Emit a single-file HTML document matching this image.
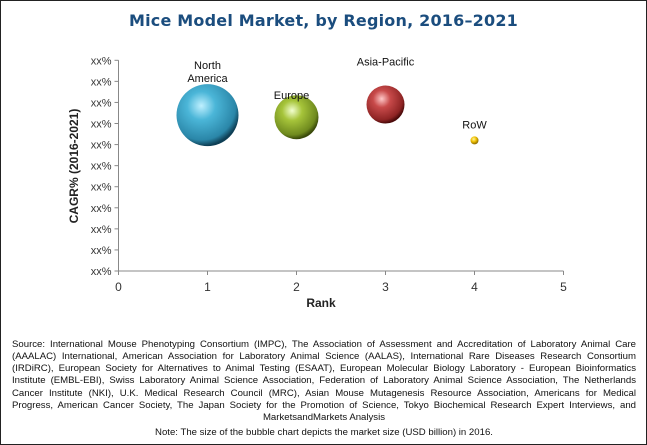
<!DOCTYPE html>
<html><head><meta charset="utf-8"><style>
body{margin:0;background:#fff;}
#wrap{position:relative;width:645px;height:443px;border:1px solid #222;overflow:hidden;font-family:"Liberation Sans",sans-serif;}
#title{position:absolute;left:0;width:645px;top:10px;text-align:center;font:bold 16px "DejaVu Sans","Liberation Sans",sans-serif;color:#1b4d7e;letter-spacing:0.2px;}
.src{position:absolute;left:11px;width:624px;font-size:9.6px;color:#111;text-align:justify;text-align-last:justify;white-space:nowrap;line-height:12px;}
</style></head><body>
<div id="wrap">
<div id="title">Mice Model Market, by Region, 2016–2021</div>
<svg id="chart" width="645" height="320" style="position:absolute;left:0;top:0">
<defs>
<radialGradient id="gNA" cx="40%" cy="35%" r="65%"><stop offset="0" stop-color="#bff0ff"/><stop offset="0.35" stop-color="#4bb6d8"/><stop offset="0.85" stop-color="#2a86a8"/><stop offset="1" stop-color="#0e3f55"/></radialGradient>
<radialGradient id="gEU" cx="40%" cy="35%" r="65%"><stop offset="0" stop-color="#f2ffd0"/><stop offset="0.35" stop-color="#a6c43a"/><stop offset="0.85" stop-color="#6f8a1e"/><stop offset="1" stop-color="#3a4a0a"/></radialGradient>
<radialGradient id="gAP" cx="40%" cy="35%" r="65%"><stop offset="0" stop-color="#ffc8c8"/><stop offset="0.35" stop-color="#c84a4a"/><stop offset="0.85" stop-color="#8e2424"/><stop offset="1" stop-color="#4a0a0a"/></radialGradient>
<radialGradient id="gRW" cx="40%" cy="35%" r="65%"><stop offset="0" stop-color="#fff6a0"/><stop offset="0.5" stop-color="#f0c000"/><stop offset="1" stop-color="#8a6a00"/></radialGradient>
</defs>
<g id="axes"></g><g id="bubbles"></g>
<text x="320" y="306" text-anchor="middle" font-family="Liberation Sans" font-weight="bold" font-size="12" fill="#222">Rank</text>
<text transform="translate(77,165) rotate(-90)" text-anchor="middle" font-family="Liberation Sans" font-weight="bold" font-size="12" fill="#222">CAGR% (2016-2021)</text>
</svg>
<div class="src" style="top:338px">Source: International Mouse Phenotyping Consortium (IMPC), The Association of Assessment and Accreditation of Laboratory Animal Care</div>
<div class="src" style="top:350px">(AAALAC) International, American Association for Laboratory Animal Science (AALAS), International Rare Diseases Research Consortium</div>
<div class="src" style="top:362px">(IRDiRC), European Society for Alternatives to Animal Testing (ESAAT), European Molecular Biology Laboratory - European Bioinformatics</div>
<div class="src" style="top:374px">Institute (EMBL-EBI), Swiss Laboratory Animal Science Association, Federation of Laboratory Animal Science Association, The Netherlands</div>
<div class="src" style="top:387px">Cancer Institute (NKI), U.K. Medical Research Council (MRC), Asian Mouse Mutagenesis Resource Association, Americans for Medical</div>
<div class="src" style="top:399px">Progress, American Cancer Society, The Japan Society for the Promotion of Science, Tokyo Biochemical Research Expert Interviews, and</div>
<div class="src" style="top:411px;text-align:center;text-align-last:center">MarketsandMarkets Analysis</div>
<div class="src" style="top:426px;text-align:center;text-align-last:center">Note: The size of the bubble chart depicts the market size (USD billion) in 2016.</div>
</div>
<script>
const regions=["North America","Europe","Asia-Pacific","RoW"];
const ranks=[1,2,3,4];
const cagr=[7.4,7.3,7.9,6.2];
const sizes=[31,22,19,4];
const xTicks=["0","1","2","3","4","5"];
const yTicks=["xx%","xx%","xx%","xx%","xx%","xx%","xx%","xx%","xx%","xx%","xx%"];
const NS="http://www.w3.org/2000/svg";
const x0=117.5,x1=562.5,yb=270,yt=59.3;
const X=v=>x0+(x1-x0)*v/5;
const Y=v=>yb-(yb-yt)*v/10;
const R=s=>s;
function mk(t,a,p){const e=document.createElementNS(NS,t);for(const k in a)e.setAttribute(k,a[k]);p.appendChild(e);return e;}
const ax=document.getElementById('axes');
let l=mk('line',{x1:x0,y1:yt,x2:x0,y2:yb,stroke:'#888'},ax);


l=mk('line',{x1:x0,y1:yb,x2:x1,y2:yb,stroke:'#888'},ax);


yTicks.forEach((t,i)=>{const y=Y(i);
 mk('line',{x1:x0-4,y1:y,x2:x0,y2:y,stroke:'#888'},ax);
 const e=mk('text',{x:x0-7,y:y+4,'text-anchor':'end','font-family':'Liberation Sans','font-size':'11',fill:'#333'},ax);
 e.textContent=t;
 
 });
xTicks.forEach((t,i)=>{const x=X(i);
 mk('line',{x1:x,y1:yb,x2:x,y2:yb+4,stroke:'#888'},ax);
 const e=mk('text',{x:x,y:yb+20,'text-anchor':'middle','font-family':'Liberation Sans','font-size':'12',fill:'#333'},ax);
 e.textContent=t;
 
 });
const bg=document.getElementById('bubbles');
const grads=['gNA','gEU','gAP','gRW'];
const labelLines=[["North","America"],["Europe"],["Asia-Pacific"],["RoW"]];
const labelGap=[2,-4,20,8];
const labelDx=[0,-5,0,0];
regions.forEach((r,i)=>{const cx=X(ranks[i]),cy=Y(cagr[i]),rr=R(sizes[i]);
 const c=mk('circle',{cx:cx,cy:cy,r:rr,fill:'url(#'+grads[i]+')'},bg);
 
 
 const lines=labelLines[i];
 const base=cy-rr-labelGap[i];
 lines.forEach((s,j)=>{const e=mk('text',{x:cx+labelDx[i],y:base-(lines.length-1-j)*13,'text-anchor':'middle','font-family':'Liberation Sans','font-size':'11',fill:'#111'},bg);
  e.textContent=s;
  
  });
});
</script>
</body></html>
